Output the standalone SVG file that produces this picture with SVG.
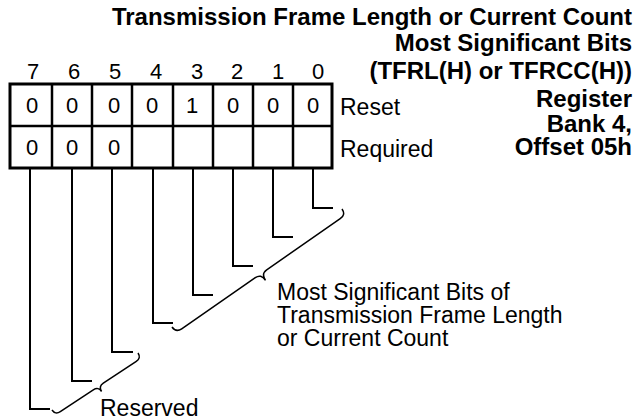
<svg xmlns="http://www.w3.org/2000/svg" width="638" height="420" viewBox="0 0 638 420">
<style>
.t{font-family:"Liberation Sans",Arial,sans-serif;font-weight:bold;font-size:24px;fill:#000;text-anchor:end}
.n{font-family:"Liberation Sans",Arial,sans-serif;font-size:22px;fill:#000}
.c{text-anchor:middle}
.l{font-family:"Liberation Sans",Arial,sans-serif;font-size:23px;fill:#000}
.grid{fill:none;stroke:#000;stroke-width:3}
.div{stroke:#000;stroke-width:2.5}
.ln{fill:none;stroke:#000;stroke-width:2}
.br{fill:none;stroke:#000;stroke-width:1.5}
</style>
<g id="title">
<text class="t" x="632" y="25">Transmission Frame Length or Current Count</text>
<text class="t" x="632" y="51">Most Significant Bits</text>
<text class="t" x="632" y="79">(TFRL(H) or TFRCC(H))</text>
<text class="t" x="632" y="107">Register</text>
<text class="t" x="632" y="132">Bank 4,</text>
<text class="t" x="632" y="155">Offset 05h</text>
</g>
<g id="bitnumbers">
<text class="n c" x="33" y="79">7</text>
<text class="n c" x="74" y="79">6</text>
<text class="n c" x="115" y="79">5</text>
<text class="n c" x="156" y="79">4</text>
<text class="n c" x="197" y="79">3</text>
<text class="n c" x="237" y="79">2</text>
<text class="n c" x="278" y="79">1</text>
<text class="n c" x="318" y="79">0</text>
</g>
<g id="register">
<rect class="grid" x="10" y="84" width="322" height="84"/>
<line class="div" x1="10" y1="126" x2="332" y2="126"/>
<line class="div" x1="52" y1="84" x2="52" y2="168"/>
<line class="div" x1="92" y1="84" x2="92" y2="168"/>
<line class="div" x1="132" y1="84" x2="132" y2="168"/>
<line class="div" x1="173" y1="84" x2="173" y2="168"/>
<line class="div" x1="213" y1="84" x2="213" y2="168"/>
<line class="div" x1="253" y1="84" x2="253" y2="168"/>
<line class="div" x1="293" y1="84" x2="293" y2="168"/>
<text class="n c" x="32" y="113">0</text>
<text class="n c" x="72" y="113">0</text>
<text class="n c" x="114" y="113">0</text>
<text class="n c" x="152" y="113">0</text>
<text class="n c" x="192" y="113">1</text>
<text class="n c" x="233" y="113">0</text>
<text class="n c" x="273" y="113">0</text>
<text class="n c" x="313" y="113">0</text>
<text class="n c" x="32" y="155">0</text>
<text class="n c" x="72" y="155">0</text>
<text class="n c" x="114" y="155">0</text>
</g>
<g id="rowlabels">
<text class="l" x="340" y="115">Reset</text>
<text class="l" x="340" y="157">Required</text>
</g>
<g id="connectors">
<path class="ln" d="M313 168 V208 H333"/>
<path class="ln" d="M273 168 V237 H293"/>
<path class="ln" d="M233 168 V266 H253"/>
<path class="ln" d="M193 168 V295 H213"/>
<path class="ln" d="M153 168 V323 H173"/>
<path class="ln" d="M112 168 V352 H133"/>
<path class="ln" d="M72 168 V381 H92"/>
<path class="ln" d="M30 168 V409 H50"/>
<path class="br" d="M342 209 Q346 214.7 340.2 218.7 L266.7 269.8 Q261 273.7 265.5 280.3 Q261 273.7 255.3 277.7 L181.7 328.8 Q176 332.7 172 327"/>
<path class="br" d="M138 353 Q141.3 358 136.3 361.3 L103.3 383.2 Q98.3 386.5 101.6 391.5 Q98.3 386.5 93.3 389.8 L60.3 411.7 Q55.3 415 52 410"/>
</g>
<g id="labels">
<text class="l" x="277" y="300">Most Significant Bits of</text>
<text class="l" x="277" y="323">Transmission Frame Length</text>
<text class="l" x="277" y="346">or Current Count</text>
<text class="l" x="100" y="416">Reserved</text>
</g>
</svg>
